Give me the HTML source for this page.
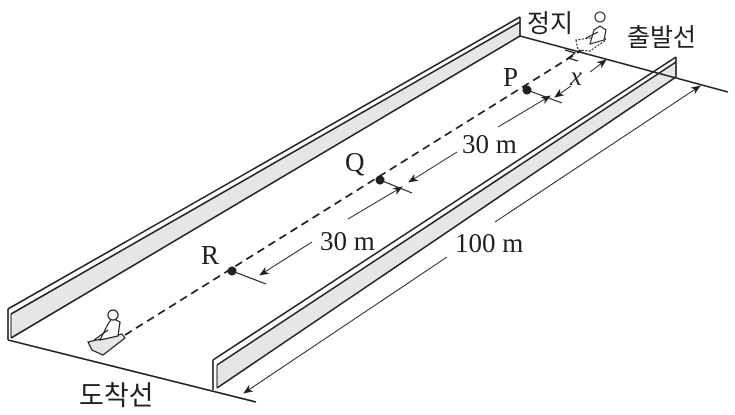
<!DOCTYPE html>
<html><head><meta charset="utf-8"><style>
body{margin:0;background:#fff}
svg{display:block}
text{font-family:"Liberation Serif",serif;fill:#231f20}
.k{font-family:"Liberation Sans","Noto Sans CJK KR",sans-serif}
</style></head><body>
<svg width="735" height="415" viewBox="0 0 735 415" xmlns="http://www.w3.org/2000/svg">
<defs>
<marker id="a" markerWidth="10" markerHeight="8" refX="9" refY="4" orient="auto" markerUnits="userSpaceOnUse">
<path d="M0,0 L10,4 L0,8 L3,4 Z" fill="#231f20"/></marker>
</defs>
<g stroke="#231f20" fill="none" stroke-width="1.6">
<polygon points="11,314 520,22 520,36 11,338" fill="#e6e6e6" stroke="none"/>
<line x1="8" y1="309" x2="520" y2="17"/>
<line x1="11" y1="314" x2="520" y2="22"/>
<line x1="11" y1="338" x2="520" y2="36"/>
<line x1="8" y1="309" x2="8" y2="340"/>
<line x1="11" y1="314" x2="11" y2="338" stroke-width="1"/>
<line x1="520" y1="17" x2="520" y2="36"/>
<polygon points="217,365 676,62 676,77 217,388" fill="#e6e6e6" stroke="none"/>
<line x1="213" y1="360" x2="676" y2="57"/>
<line x1="217" y1="365" x2="676" y2="62"/>
<line x1="217" y1="388" x2="676" y2="77"/>
<line x1="213" y1="360" x2="213" y2="390"/>
<line x1="217" y1="365" x2="217" y2="388" stroke-width="1"/>
<line x1="676" y1="57" x2="676" y2="77"/>
<line x1="8" y1="340" x2="256" y2="402"/>
<line x1="520" y1="36" x2="728" y2="92"/>
<line x1="125" y1="335" x2="598" y2="40" stroke-dasharray="8,5" stroke-width="1.8"/>
<path d="M565,50 L575,53 L568,58 L578,61" stroke-width="1.2"/>
<line x1="232" y1="271" x2="266" y2="284" stroke-width="1.2"/>
<line x1="380" y1="180" x2="412" y2="193" stroke-width="1.2"/>
<line x1="527" y1="90" x2="562" y2="103" stroke-width="1.2"/>
<g stroke-width="1">
<line x1="312" y1="242" x2="260" y2="275" marker-end="url(#a)"/>
<line x1="348" y1="219" x2="402" y2="187" marker-end="url(#a)"/>
<line x1="457" y1="152" x2="409" y2="182" marker-end="url(#a)"/>
<line x1="498" y1="127" x2="550" y2="96" marker-end="url(#a)"/>
<line x1="571" y1="86" x2="555" y2="97" marker-end="url(#a)"/>
<line x1="590" y1="72" x2="606" y2="60" marker-end="url(#a)"/>
<line x1="447" y1="257" x2="244" y2="393" marker-end="url(#a)"/>
<line x1="495" y1="222" x2="700" y2="86" marker-end="url(#a)"/>
</g>
</g>
<g fill="#231f20">
<circle cx="232" cy="271" r="4.5"/><circle cx="380" cy="180" r="4.5"/><circle cx="527" cy="90" r="4.5"/>
</g>
<g stroke="#231f20" stroke-width="1.2" fill="#fff">
<path d="M88,342 L92,350 L103,355 L125,338 L122,334 Z" fill="#e6e6e6"/>
<path d="M100,340 L108,324 L112,318 L120,322 L118,336 Z"/>
<circle cx="113" cy="315" r="5"/>
<path d="M94,340 L108,330"/>
</g>
<g stroke="#231f20" stroke-width="1.1" fill="#fff">
<path d="M576,40 L578,50 L590,51 L606,40 L604,36 Z" stroke-dasharray="2,1.5"/>
<path d="M590,44 L594,30 L600,26 L606,30 L604,40 Z"/>
<circle cx="600" cy="17" r="5"/>
<path d="M586,38 L598,32"/>
</g>
<text x="201" y="264" font-size="27">R</text>
<text x="345" y="171" font-size="27">Q</text>
<text x="503" y="86" font-size="27">P</text>
<text x="320" y="250" font-size="27">30 m</text>
<text x="462" y="153" font-size="27">30 m</text>
<text x="455" y="252" font-size="27">100 m</text>
<text x="570" y="85" font-size="27" font-style="italic">x</text>
<text class="k" x="527" y="32" font-size="25">정지</text>
<text class="k" x="627" y="46" font-size="25">출발선</text>
<text class="k" x="79" y="405" font-size="27">도착선</text>
</svg>
</body></html>
